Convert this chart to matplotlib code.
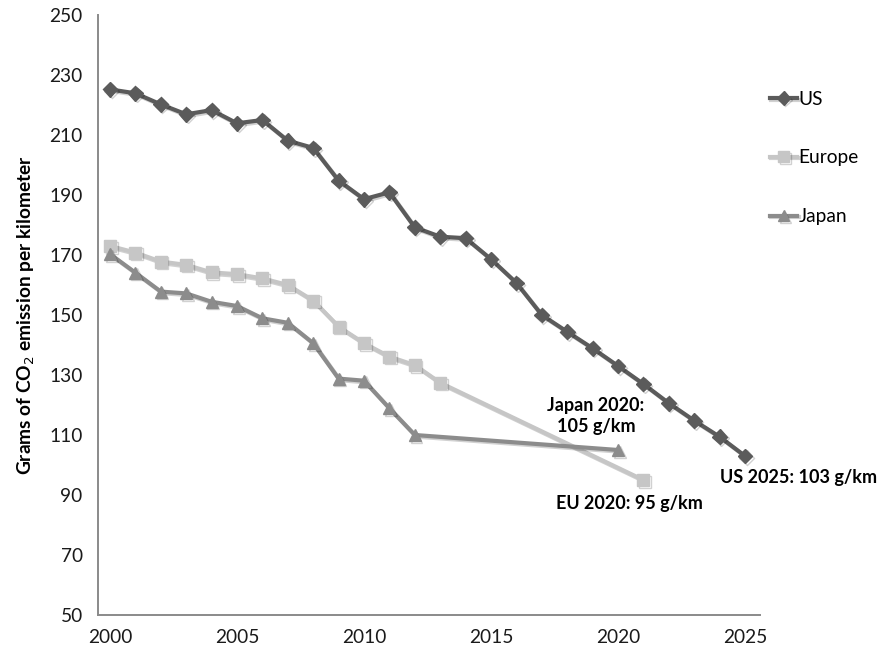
import matplotlib
matplotlib.use("Agg")
import matplotlib.pyplot as plt
import matplotlib.patheffects as pe

plt.rcParams['font.family'] = ['Lato', 'DejaVu Sans']

# Fleet-average CO2 emissions (g/km)
us_years = list(range(2000, 2026))
us_values = [225.2, 223.9, 220.2, 216.9, 218.3, 213.9, 215.0, 208.1, 205.7, 194.8,
             188.6, 190.9, 179.2, 176.1, 175.6, 168.6, 160.7, 150.0, 144.4, 138.9,
             133.0, 127.0, 120.6, 114.8, 109.4, 103.0]

eu_years = list(range(2000, 2014)) + [2021]
eu_values = [173.0, 170.8, 167.8, 166.7, 164.2, 163.6, 162.2, 160.0, 154.8, 146.1,
             140.6, 136.1, 133.3, 127.4, 95.0]

jp_years = list(range(2000, 2013)) + [2020]
jp_values = [170.3, 164.1, 157.8, 157.2, 154.4, 153.0, 148.9, 147.4, 140.6, 128.8,
             128.1, 118.9, 110.0, 105.0]

x_ticks = [2000, 2005, 2010, 2015, 2020, 2025]
y_ticks = list(range(50, 251, 20))

fig = plt.figure(figsize=(8.83, 6.56), dpi=100)
ax = fig.add_axes([98 / 883, 41 / 656, 662 / 883, 600 / 656])

shadow = [pe.SimpleLineShadow(offset=(1.2, -1.2), alpha=0.18, shadow_color='k'), pe.Normal()]

ax.plot(us_years, us_values, color='#5b5b5b', lw=3.0, marker='D', ms=7.5,
        label='US', path_effects=shadow, zorder=3)
ax.plot(eu_years, eu_values, color='#c6c6c6', lw=3.0, marker='s', ms=8.5,
        label='Europe', path_effects=shadow, zorder=2)
ax.plot(jp_years, jp_values, color='#8c8c8c', lw=3.0, marker='^', ms=8.5,
        label='Japan', path_effects=shadow, zorder=2)

ax.set_xlim(2000 - 12 / 25.4, 2025 + 15 / 25.4)
ax.set_ylim(50, 250)
ax.set_xticks(x_ticks)
ax.set_yticks(y_ticks)
ax.tick_params(axis='both', length=0, labelsize=13.8, colors='#1a1a1a')
ax.tick_params(axis='x', pad=10)
ax.tick_params(axis='y', pad=11)

for side in ('top', 'right'):
    ax.spines[side].set_visible(False)
for side in ('left', 'bottom'):
    ax.spines[side].set_color('#8a8a8a')
    ax.spines[side].set_linewidth(1.4)

ax.set_ylabel('Grams of CO$_2$ emission per kilometer', fontsize=13.8,
              fontweight='bold', labelpad=9)

ax.text(jp_years[-1] - 0.87, jp_values[-1] + 11.3, 'Japan 2020:\n105 g/km',
        ha='center', va='center', fontsize=13, fontweight='bold', linespacing=1.25)
ax.text(eu_years[-1] - 3.44, eu_values[-1] - 7.7, 'EU 2020: 95 g/km',
        ha='left', va='center', fontsize=13, fontweight='bold')
ax.text(us_years[-1] - 1.0, us_values[-1] - 7.3, 'US 2025: 103 g/km',
        ha='left', va='center', fontsize=13, fontweight='bold')

fig.legend(loc='upper left', bbox_to_anchor=(762 / 883, 1 - 83 / 656),
           frameon=False, fontsize=13.8, handlelength=1.45, handletextpad=0.05,
           labelspacing=2.18, borderaxespad=0, markerscale=0.9)

fig.savefig('out.png', dpi=100)
